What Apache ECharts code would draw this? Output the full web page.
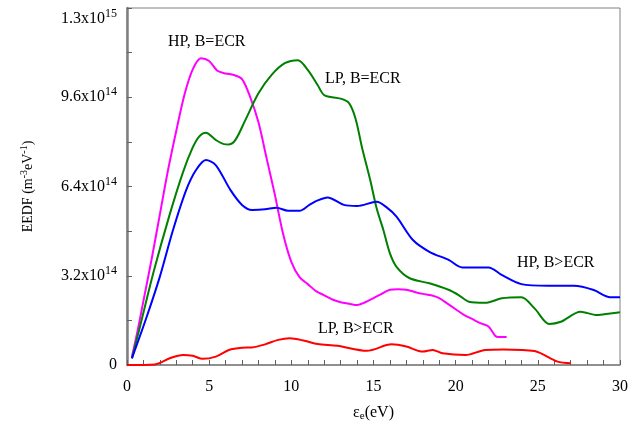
<!DOCTYPE html>
<html>
<head>
<meta charset="utf-8">
<script src="https://cdn.jsdelivr.net/npm/echarts@6/dist/echarts.min.js"></script>
<style>
  html, body { margin: 0; padding: 0; background: #fff; }
  #chart { width: 631px; height: 432px; }
</style>
</head>
<body>
<div id="chart"></div>
<script>
// Electron energy distribution functions, EEDF in units of 1e14 m^-3 eV^-1 vs energy (eV)
const hpEcr = [
  [0.3, 0.3], [0.6, 1.1], [1.0, 2.3], [1.5, 3.8], [2.0, 5.4], [2.5, 7.0], [3.0, 8.4],
  [3.5, 9.7], [4.0, 10.6], [4.5, 11.0], [5.0, 10.9], [5.5, 10.55], [6.0, 10.45],
  [6.5, 10.4], [7.0, 10.25], [7.5, 9.6], [8.0, 8.7], [8.5, 7.4], [9.0, 6.1], [9.5, 4.7],
  [10.0, 3.7], [10.5, 3.15], [11.0, 2.9], [11.5, 2.65], [12.0, 2.5], [12.5, 2.35],
  [13.0, 2.25], [13.5, 2.2], [14.0, 2.15], [14.5, 2.25], [15.0, 2.4], [15.5, 2.55],
  [16.0, 2.7], [16.5, 2.72], [17.0, 2.7], [17.5, 2.62], [18.0, 2.55], [18.5, 2.5],
  [19.0, 2.4], [19.5, 2.2], [20.0, 2.0], [20.5, 1.8], [21.0, 1.65], [21.5, 1.5],
  [22.0, 1.38], [22.4, 1.05], [22.6, 1.0], [23.1, 1.0]
];
const lpEcr = [
  [0.3, 0.24], [0.8, 1.4], [1.6, 3.3], [2.6, 5.4], [3.4, 6.9], [4.0, 7.8], [4.4, 8.2],
  [4.8, 8.33], [5.4, 8.07], [5.9, 7.92], [6.2, 7.91], [6.6, 8.07], [7.2, 8.78],
  [8.0, 9.74], [8.8, 10.4], [9.6, 10.82], [10.4, 10.93], [11.0, 10.58], [11.6, 10.04],
  [12.0, 9.68], [13.0, 9.55], [13.5, 9.4], [13.9, 8.85], [14.3, 7.8], [14.8, 6.63],
  [15.2, 5.6], [15.6, 4.84], [16.0, 4.0], [16.4, 3.52], [17.2, 3.11], [18.4, 2.93],
  [19.6, 2.69], [20.2, 2.5], [20.8, 2.27], [21.8, 2.23], [22.8, 2.39], [24.0, 2.43],
  [24.8, 2.03], [25.7, 1.47], [26.4, 1.55], [27.6, 1.91], [28.6, 1.79], [29.4, 1.85],
  [30.0, 1.89]
];
const hpAbove = [
  [0.3, 0.24], [1.2, 1.73], [2.0, 3.17], [2.8, 4.84], [3.6, 6.27], [4.2, 6.99],
  [4.8, 7.35], [5.4, 7.17], [6.3, 6.27], [7.0, 5.74], [7.6, 5.56], [8.4, 5.58],
  [9.1, 5.64], [9.8, 5.53], [10.5, 5.53], [11.1, 5.74], [11.6, 5.9], [12.2, 6.01],
  [13.2, 5.74], [14.0, 5.7], [15.2, 5.85], [15.8, 5.65], [16.4, 5.32], [17.4, 4.48],
  [18.4, 4.06], [19.6, 3.76], [20.4, 3.5], [22.0, 3.5], [22.8, 3.23], [24.0, 2.9],
  [25.6, 2.84], [27.2, 2.84], [28.4, 2.69], [29.4, 2.43], [30.0, 2.43]
];
const lpAbove = [
  [0.0, 0.0], [1.7, 0.02], [2.6, 0.24], [3.4, 0.36], [4.0, 0.33], [4.6, 0.22],
  [5.4, 0.3], [6.2, 0.54], [7.0, 0.62], [7.6, 0.63], [8.4, 0.74], [9.2, 0.9],
  [9.9, 0.96], [10.8, 0.87], [11.6, 0.75], [12.8, 0.69], [14.6, 0.51], [16.1, 0.74],
  [17.0, 0.66], [18.0, 0.48], [18.6, 0.54], [19.2, 0.42], [20.6, 0.36], [21.8, 0.54],
  [22.9, 0.56], [24.8, 0.5], [26.2, 0.12], [27.0, 0.06]
];

// y tick labels (value in 1e14 units -> mantissa / exponent)
const yTicks = [0, 3.2, 6.4, 9.6, 12.8];
const yTickText = [['0', ''], ['3.2x10', '14'], ['6.4x10', '14'], ['9.6x10', '14'], ['1.3x10', '15']];
const xTicks = [0, 5, 10, 15, 20, 25, 30];

const seriesNames = ['HP, B=ECR', 'LP, B=ECR', 'HP, B>ECR', 'LP, B>ECR'];
const seriesData = [hpEcr, lpEcr, hpAbove, lpAbove];
const seriesColors = ['#ff00ff', '#008000', '#0000ff', '#ff0000'];

const serif = '"Liberation Serif", "DejaVu Serif", serif';
const chart = echarts.init(document.getElementById('chart'));

chart.setOption({
  animation: false,
  backgroundColor: '#fff',
  grid: {
    left: 127, right: 4, top: 8, bottom: 67,
    show: true, borderColor: '#808080', borderWidth: 1
  },
  xAxis: {
    type: 'value', min: 0, max: 30, interval: 1,
    name: '{a|ε}{s|e}{a|(eV)}', nameLocation: 'middle', nameGap: 38,
    nameTextStyle: {
      rich: {
        a: { fontFamily: serif, fontSize: 16, color: '#000' },
        s: { fontFamily: serif, fontSize: 11, color: '#000', padding: [8, 0, 0, 0] }
      }
    },
    axisLine: { lineStyle: { color: '#808080', width: 1.5 } },
    axisTick: { inside: true, length: 5, lineStyle: { color: '#606060' } },
    splitLine: { show: false },
    axisLabel: {
      margin: 14, fontFamily: serif, fontSize: 16, color: '#000',
      formatter: v => (xTicks.indexOf(Math.round(v)) >= 0 && Math.abs(v - Math.round(v)) < 1e-6) ? String(Math.round(v)) : ''
    }
  },
  yAxis: {
    type: 'value', min: 0, max: 12.8, interval: 1.6,
    name: '{a|EEDF (m}{s|-3}{a|eV}{s|-1}{a|)}', nameLocation: 'middle', nameGap: 90, nameRotate: 90,
    nameTextStyle: {
      rich: {
        a: { fontFamily: serif, fontSize: 14, color: '#000' },
        s: { fontFamily: serif, fontSize: 10, color: '#000', padding: [0, 0, 8, 0] }
      }
    },
    axisLine: { show: true, lineStyle: { color: '#808080', width: 2.5 } },
    axisTick: { inside: true, length: 5, lineStyle: { color: '#606060' } },
    splitLine: { show: false },
    axisLabel: {
      margin: 10,
      formatter: v => {
        const i = yTicks.findIndex(t => Math.abs(t - v) < 1e-6);
        if (i < 0) return '';
        const [m, e] = yTickText[i];
        // the top label sits a little below its tick, inside the frame
        const top = i === yTicks.length - 1;
        if (!e) return '{m|' + m + '}';
        return top ? '{mt|' + m + '}{et|' + e + '}' : '{m|' + m + '}{e|' + e + '}';
      },
      rich: {
        m: { fontFamily: serif, fontSize: 16, color: '#000' },
        e: { fontFamily: serif, fontSize: 12, color: '#000', padding: [0, 0, 10, 0] },
        mt: { fontFamily: serif, fontSize: 16, color: '#000', padding: [22, 0, 0, 0] },
        et: { fontFamily: serif, fontSize: 12, color: '#000', padding: [12, 0, 0, 0] }
      }
    }
  },
  series: seriesData.map((d, i) => ({
    name: seriesNames[i], type: 'line', data: d, smooth: 0.3,
    showSymbol: false, lineStyle: { color: seriesColors[i], width: 2 },
    itemStyle: { color: seriesColors[i] }
  })),
  graphic: [
    { type: 'text', left: 168, top: 34, style: { text: 'HP, B=ECR', font: '16px ' + serif, fill: '#000' } },
    { type: 'text', left: 325, top: 71, style: { text: 'LP, B=ECR', font: '16px ' + serif, fill: '#000' } },
    { type: 'text', left: 517, top: 255, style: { text: 'HP, B>ECR', font: '16px ' + serif, fill: '#000' } },
    { type: 'text', left: 318, top: 321, style: { text: 'LP, B>ECR', font: '16px ' + serif, fill: '#000' } }
  ]
});
</script>
</body>
</html>
